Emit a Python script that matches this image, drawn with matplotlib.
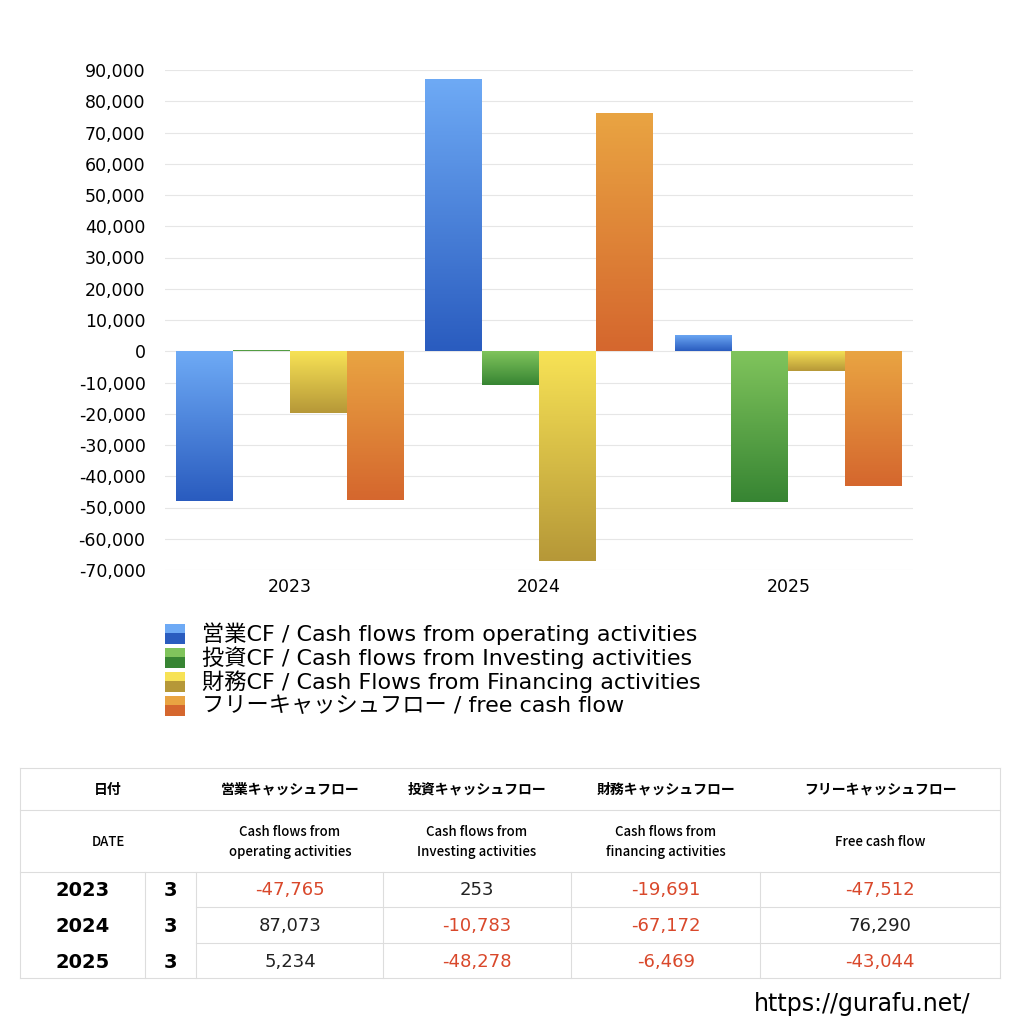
import matplotlib
matplotlib.use("Agg")
import matplotlib.pyplot as plt
import numpy as np
from matplotlib.colors import LinearSegmentedColormap
from matplotlib.patches import Rectangle

plt.rcParams['font.family'] = ['DejaVu Sans', 'Noto Sans CJK JP']

years = ["2023", "2024", "2025"]
months = ["3", "3", "3"]
operating = [-47765, 87073, 5234]
investing = [253, -10783, -48278]
financing = [-19691, -67172, -6469]
free_cf = [-47512, 76290, -43044]
series = [operating, investing, financing, free_cf]
labels = ["営業CF / Cash flows from operating activities",
          "投資CF / Cash flows from Investing activities",
          "財務CF / Cash Flows from Financing activities",
          "フリーキャッシュフロー / free cash flow"]
grad = [("#6eaaf5", "#2a5cbf"), ("#80c45c", "#378533"),
        ("#f7e255", "#b69838"), ("#e9a442", "#d5672e")]

W = 1024
fig = plt.figure(figsize=(10.24, 10.24), dpi=100)
ax = fig.add_axes([165/W, 1-570/W, (913-165)/W, 500/W])
ax.set_xlim(-0.5, 2.5)
ax.set_ylim(-70000, 90000)
ax.set_yticks(np.arange(-70000, 90001, 10000))
ax.set_yticklabels([f"{v:,}" for v in range(-70000, 90001, 10000)], fontsize=12.5)
ax.set_xticks(range(3))
ax.set_xticklabels(years, fontsize=12.5)
ax.grid(axis='y', color='#e6e6e6', lw=0.8)
ax.set_axisbelow(True)
for s in ax.spines.values():
    s.set_visible(False)
ax.tick_params(length=0, pad=6)
ax.tick_params(axis='y', pad=14)

bw = 0.228
x = np.arange(3)
for i, (vals, (c1, c2)) in enumerate(zip(series, grad)):
    cmap = LinearSegmentedColormap.from_list("g", [c2, c1])
    bars = ax.bar(x + (i - 1.5) * bw, vals, bw, color='none', zorder=2)
    for b in bars:
        x0, y0, w, h = b.get_x(), b.get_y(), b.get_width(), b.get_height()
        lo, hi = min(y0, y0 + h), max(y0, y0 + h)
        im = ax.imshow(np.linspace(0, 1, 100).reshape(-1, 1), cmap=cmap, origin='lower',
                       extent=[x0, x0 + w, lo, hi], aspect='auto', zorder=3)
        im.set_clip_path(b)
ax.set_xlim(-0.5, 2.5)
ax.set_ylim(-70000, 90000)

# legend
for i, (lab, (c1, c2)) in enumerate(zip(labels, grad)):
    yc = 1 - (634 + i * 24) / W
    fig.patches.append(Rectangle((165/W, yc - 10/W), 20/W, 20/W, transform=fig.transFigure,
                                 facecolor=c2, edgecolor='none'))
    fig.patches.append(Rectangle((165/W, yc + 1/W), 20/W, 9/W, transform=fig.transFigure,
                                 facecolor=c1, edgecolor='none'))
    fig.text(202/W, yc, lab, fontsize=16, va='center', ha='left')

# table
def fy(p): return 1 - p / W
def fx(p): return p / W
lc = '#dddddd'
def hline(y, x0=20, x1=1000):
    fig.add_artist(plt.Line2D([fx(x0), fx(x1)], [fy(y), fy(y)], color=lc, lw=0.8))
def vline(x, y0, y1):
    fig.add_artist(plt.Line2D([fx(x), fx(x)], [fy(y0), fy(y1)], color=lc, lw=0.8))
hline(768); hline(810); hline(872); hline(978)
hline(907, 196); hline(943, 196)
vline(20, 768, 978); vline(1000, 768, 978)
for xv in [145, 196, 383, 571, 760]:
    vline(xv, 872, 978)
colc = [108, 290, 477, 666, 880]
h1 = ["日付", "営業キャッシュフロー", "投資キャッシュフロー", "財務キャッシュフロー", "フリーキャッシュフロー"]
h2 = ["DATE", "Cash flows from\noperating activities", "Cash flows from\nInvesting activities",
      "Cash flows from\nfinancing activities", "Free cash flow"]
for c, a, b in zip(colc, h1, h2):
    fig.text(fx(c), fy(790), a, fontsize=10, fontweight='bold', ha='center', va='center',
             family=['Noto Sans CJK JP'])
    fig.text(fx(c), fy(842), b, fontsize=9.5, fontweight='medium', ha='center', va='center',
             linespacing=1.5, family=['Noto Sans CJK JP'])
rows_y = [890, 926, 962]
for r in range(3):
    fig.text(fx(83), fy(rows_y[r]), years[r], fontsize=14, fontweight='bold', ha='center', va='center')
    fig.text(fx(170), fy(rows_y[r]), months[r], fontsize=14, fontweight='bold', ha='center', va='center')
    for c, s in zip(colc[1:], series):
        v = s[r]
        fig.text(fx(c), fy(rows_y[r]), f"{v:,}", fontsize=13, ha='center', va='center',
                 color='#d9482b' if v < 0 else '#222222')
fig.text(fx(970), fy(1004), "https://gurafu.net/", fontsize=17, fontweight='medium',
         ha='right', va='center')

fig.savefig("out.png", dpi=100, facecolor='white')
